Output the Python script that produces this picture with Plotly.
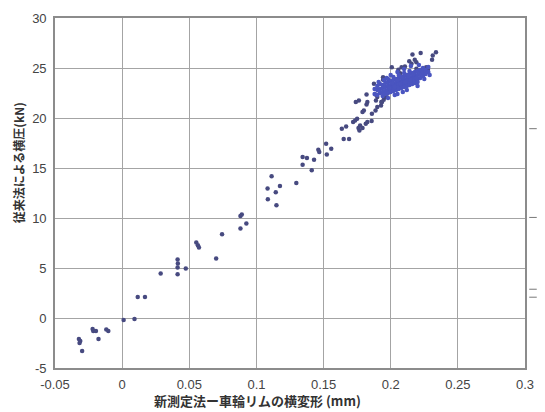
import plotly.graph_objects as go

# sparse points (new method deformation mm, conventional lateral force kN)
sparse_x = [-0.0322, -0.0312, -0.0317, -0.0298, -0.0220, -0.0215, -0.0195, -0.0176,
            -0.0118, -0.0103, 0.0011, 0.0092, 0.0116, 0.0170, 0.0287,
            0.0413, 0.0415, 0.0413, 0.0413, 0.0474,
            0.0552, 0.0564, 0.0572, 0.0700, 0.0744, 0.0881, 0.0891, 0.0881, 0.0925,
            0.1083, 0.1085, 0.1113, 0.1144, 0.1149, 0.1175, 0.1297,
            0.1344, 0.1376, 0.1344, 0.1429, 0.1412, 0.1461, 0.1468,
            0.1519, 0.1524, 0.1557,
            0.1650, 0.1690, 0.1636, 0.1668, 0.1720, 0.1735, 0.1750,
            0.1760, 0.1767, 0.1790, 0.1772, 0.1814, 0.1826, 0.1858,
            0.1740, 0.1763, 0.1790, 0.1800, 0.1820, 0.1826, 0.1820,
            0.1875, 0.1943, 0.1887, 0.1900, 0.1860, 0.1887, 0.1900,
            0.1928, 0.1935, 0.1948, 0.1960, 0.1972, 0.1890, 0.1930,
            0.2162, 0.2223, 0.2313, 0.2337, 0.2308, 0.2179, 0.2191, 0.2138, 0.2155,
            0.2081, 0.2106, 0.2191, 0.2215, 0.2264, 0.2277, 0.2057, 0.2070, 0.2008, 0.1943]
sparse_y = [-2.10, -2.30, -2.50, -3.30, -1.10, -1.30, -1.30, -2.10,
            -1.15, -1.30, -0.19, -0.09, 2.10, 2.10, 4.45,
            5.84, 5.44, 5.04, 4.38, 4.95,
            7.54, 7.27, 7.04, 5.94, 8.37, 10.20, 10.34, 8.94, 9.44,
            12.94, 11.87, 14.17, 12.57, 11.27, 13.20, 13.50,
            16.09, 15.99, 15.33, 15.83, 14.77, 16.83, 16.60,
            17.43, 16.36, 16.93,
            17.89, 17.89, 18.93, 19.16, 19.60, 19.76, 19.93,
            19.00, 18.76, 19.00, 19.26, 19.43, 19.60, 19.69,
            21.60, 21.76, 20.60, 20.76, 21.36, 21.60, 22.36,
            23.43, 23.83, 22.36, 22.10, 20.43, 20.76, 21.10,
            21.26, 21.60, 21.83, 22.10, 22.43, 21.76, 21.60,
            26.35, 26.49, 26.25, 26.58, 25.82, 25.82, 25.58, 25.68, 25.42,
            25.08, 25.15, 24.92, 24.75, 25.08, 24.82, 24.82, 24.48, 25.08, 24.08]

# dense cluster
cluster_x = [0.188, 0.188, 0.190, 0.190, 0.190, 0.192, 0.192, 0.192,
             0.194, 0.194, 0.194, 0.194, 0.196, 0.196, 0.196, 0.196,
             0.198, 0.198, 0.198, 0.198, 0.198, 0.200, 0.200, 0.200, 0.200, 0.200,
             0.202, 0.202, 0.202, 0.202, 0.202, 0.202, 0.204, 0.204, 0.204, 0.204, 0.204,
             0.206, 0.206, 0.206, 0.206, 0.206, 0.206, 0.208, 0.208, 0.208, 0.208, 0.208,
             0.210, 0.210, 0.210, 0.210, 0.210, 0.210, 0.212, 0.212, 0.212, 0.212, 0.212,
             0.214, 0.214, 0.214, 0.214, 0.214, 0.216, 0.216, 0.216, 0.216, 0.216,
             0.218, 0.218, 0.218, 0.218, 0.220, 0.220, 0.220, 0.220,
             0.222, 0.222, 0.222, 0.224, 0.224, 0.224, 0.226, 0.226, 0.228, 0.228,
             0.201, 0.205, 0.209, 0.213, 0.217, 0.199, 0.203, 0.207, 0.211, 0.215, 0.219,
             0.195, 0.200, 0.205, 0.210, 0.215, 0.198, 0.205, 0.212, 0.220, 0.225, 0.229,
             0.191, 0.197, 0.203, 0.209, 0.221]
cluster_y = [22.4, 22.9, 22.3, 22.8, 23.2, 22.5, 22.9, 23.4,
             22.6, 23.0, 23.3, 22.2, 22.7, 23.1, 23.5, 22.4,
             22.8, 23.2, 23.6, 22.5, 23.9, 22.9, 23.3, 23.7, 22.6, 23.0,
             23.0, 23.4, 23.8, 22.7, 24.1, 23.2, 23.1, 23.5, 23.9, 22.8, 23.3,
             23.2, 23.6, 24.0, 22.9, 24.3, 23.4, 23.3, 23.7, 24.1, 23.0, 23.5,
             23.4, 23.8, 24.2, 23.1, 24.5, 23.6, 23.5, 23.9, 24.3, 23.2, 23.7,
             23.6, 24.0, 24.4, 23.3, 24.7, 23.7, 24.1, 24.5, 23.4, 23.9,
             23.8, 24.2, 24.6, 23.5, 23.9, 24.3, 24.7, 23.6,
             24.0, 24.4, 24.8, 24.2, 24.6, 25.0, 24.4, 24.8, 24.6, 25.1,
             23.5, 23.8, 24.0, 24.2, 24.4, 23.0, 23.1, 23.4, 23.6, 23.8, 24.0,
             23.8, 24.3, 24.6, 24.9, 25.2, 22.0, 22.4, 22.8, 23.2, 23.9, 24.3,
             23.6, 24.0, 22.3, 22.6, 25.3]

x_ticks = [-0.05, 0, 0.05, 0.1, 0.15, 0.2, 0.25, 0.3]
x_ticktext = ["-0.05", "0", "0.05", "0.1", "0.15", "0.2", "0.25", "0.3"]
y_ticks = [-5, 0, 5, 10, 15, 20, 25, 30]
y_ticktext = ["-5", "0", "5", "10", "15", "20", "25", "30"]

x_title = "新測定法ー車輪リムの横変形 (mm)"
y_title = "従来法による横圧(kN)"

fig = go.Figure()
fig.add_trace(go.Scatter(x=sparse_x, y=sparse_y, mode="markers",
                         marker=dict(size=4.5, color="#474a80", line=dict(width=0)),
                         showlegend=False))
fig.add_trace(go.Scatter(x=cluster_x, y=cluster_y, mode="markers",
                         marker=dict(size=4.5, color="#4a55c0", line=dict(width=0)),
                         showlegend=False))

axis_common = dict(showgrid=True, gridcolor="#a4a4a4", gridwidth=1.3,
                   showline=True, mirror=True, linecolor="#8c8c8c", linewidth=1.6,
                   zeroline=False, ticks="", ticklabelstandoff=4,
                   tickfont=dict(family="Liberation Sans, Arial", size=13, color="#444444"))

fig.update_layout(
    width=545, height=412,
    margin=dict(l=55, r=11, t=17, b=44),
    paper_bgcolor="white", plot_bgcolor="white",
    xaxis=dict(range=[-0.05, 0.3], tickvals=x_ticks, ticktext=x_ticktext, **axis_common),
    yaxis=dict(range=[-5, 30], tickvals=y_ticks, ticktext=y_ticktext, **axis_common),
    annotations=[
        dict(text=x_title, xref="paper", yref="paper", x=0.43, y=-0.093,
             xanchor="center", yanchor="middle", showarrow=False,
             font=dict(family="Noto Sans CJK JP", size=13, color="#333333", weight="bold")),
        dict(text=y_title, xref="paper", yref="paper", x=-0.0772, y=0.587,
             xanchor="center", yanchor="middle", showarrow=False, textangle=-90,
             font=dict(family="Noto Sans CJK JP", size=12, color="#333333", weight="bold")),
    ],
)

# small marks at the right edge of the scan
for py in [128, 217, 289, 297]:
    yp = (368 - py) / 351
    fig.add_shape(type="line", xref="paper", yref="paper",
                  x0=1.009, x1=1.025, y0=yp, y1=yp,
                  line=dict(color="#777777", width=1))

fig.write_html("out.html", config={"displayModeBar": False},
               post_script="document.body.style.margin='0';")
